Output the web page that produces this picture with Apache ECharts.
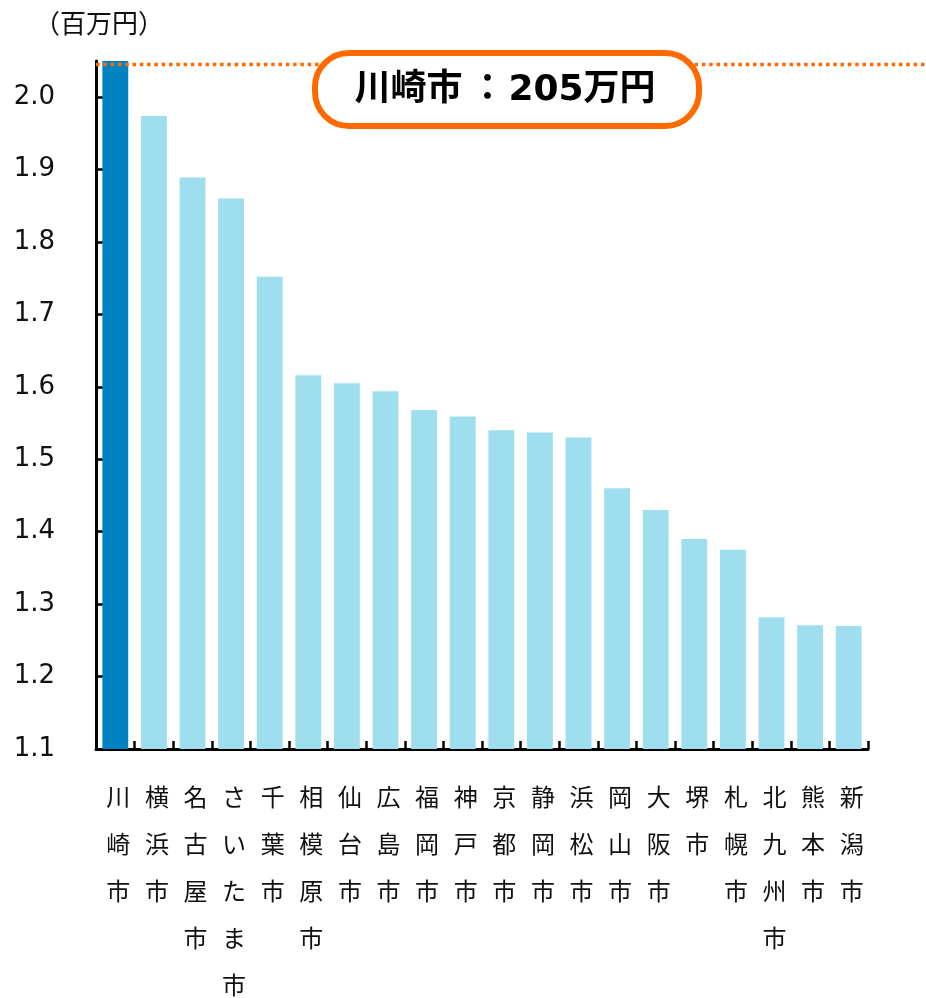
<!DOCTYPE html>
<html>
<head>
<meta charset="utf-8">
<script src="https://cdn.jsdelivr.net/npm/echarts@6/dist/echarts.min.js"></script>
<style>
  html, body { margin: 0; padding: 0; background: #fff; }
  #chart { width: 926px; height: 998px; }
</style>
</head>
<body>
<div id="chart"></div>
<script>
// Average income per taxpayer by designated city (million yen)
const cities = ['川崎市', '横浜市', '名古屋市', 'さいたま市', '千葉市', '相模原市', '仙台市', '広島市', '福岡市', '神戸市',
                '京都市', '静岡市', '浜松市', '岡山市', '大阪市', '堺市', '札幌市', '北九州市', '熊本市', '新潟市'];
const incomes = [2.05, 1.974, 1.889, 1.860, 1.752, 1.616, 1.605, 1.594, 1.568, 1.559,
                 1.540, 1.537, 1.530, 1.460, 1.430, 1.390, 1.375, 1.282, 1.271, 1.270];
const yTicks = [1.1, 1.2, 1.3, 1.4, 1.5, 1.6, 1.7, 1.8, 1.9, 2.0];
const unitLabel = '（百万円）';
const focusCity = '川崎市';

const DARK = '#0083C3';
const LIGHT = '#9EDEEF';
const ORANGE = '#FF6A00';
const CJK = '"Noto Sans CJK JP", sans-serif';
const LATIN = '"DejaVu Sans", "Noto Sans CJK JP", sans-serif';

const chart = echarts.init(document.getElementById('chart'), null, { renderer: 'canvas' });

chart.setOption({
  animation: false,
  grid: { left: 96, right: 58, top: 61, bottom: 249, outerBoundsMode: 'none', containLabel: false },
  xAxis: {
    type: 'category',
    data: cities,
    axisLine: { lineStyle: { color: '#000', width: 3 } },
    axisTick: { show: true, inside: true, length: 8, interval: 0, lineStyle: { color: '#000', width: 2.5 } },
    axisLabel: {
      interval: 0,
      margin: 24,
      fontSize: 24,
      lineHeight: 47,
      color: '#111',
      fontFamily: CJK,
      padding: [0, 0, 0, 6],
      formatter: v => v.split('').join('\n')
    }
  },
  yAxis: {
    type: 'value',
    min: 1.1,
    max: 2.05,
    interval: 0.1,
    axisLine: { show: true, lineStyle: { color: '#000', width: 3 } },
    axisTick: { show: true, inside: true, length: 8, customValues: yTicks, lineStyle: { color: '#000', width: 2.5 } },
    axisLabel: {
      customValues: yTicks,
      formatter: v => v.toFixed(1),
      margin: 41,
      fontSize: 26,
      color: '#111',
      fontFamily: LATIN
    },
    splitLine: { show: false }
  },
  series: [{
    type: 'bar',
    data: incomes,
    barCategoryGap: '33%',
    itemStyle: { color: p => (cities[p.dataIndex] === focusCity ? DARK : LIGHT) }
  }]
});

// Reference line at the focus city's level plus the callout box
const focusIdx = cities.indexOf(focusCity);
const focusVal = incomes[focusIdx];
const lineY = chart.convertToPixel({ yAxisIndex: 0 }, focusVal) + 3.5;
const gridLeft = 96;

chart.setOption({
  graphic: [
    {
      type: 'text',
      left: 34, top: 10,
      style: { text: unitLabel, fontSize: 26, fill: '#111', fontFamily: CJK }
    },
    {
      type: 'line',
      shape: { x1: gridLeft, y1: lineY, x2: 926, y2: lineY },
      style: { stroke: ORANGE, lineWidth: 3.5, lineDash: [3.5, 3.8] },
      z: 10
    },
    {
      type: 'rect',
      shape: { x: 315, y: 53, width: 384, height: 73, r: 34 },
      style: { fill: '#fff', stroke: ORANGE, lineWidth: 6 },
      z: 11
    },
    {
      type: 'text',
      x: 505, y: 91,
      style: {
        text: '{a|' + focusCity + '}{c|：}{a|' + Math.round(focusVal * 100) + '万円}',
        align: 'center', verticalAlign: 'middle',
        rich: {
          a: { fontSize: 36, fontWeight: 'bold', fill: '#000', fontFamily: LATIN },
          c: { fontSize: 36, fontWeight: 'bold', fill: '#000', fontFamily: LATIN, padding: [0, 3, 0, 7] }
        }
      },
      z: 12
    }
  ]
});
</script>
</body>
</html>
